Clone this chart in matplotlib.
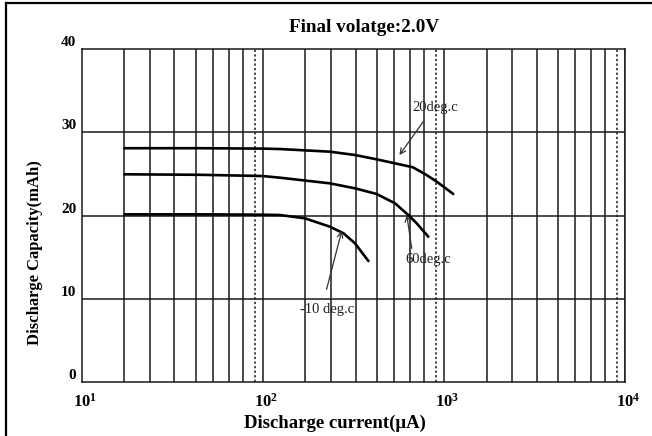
import numpy as np
import matplotlib.pyplot as plt
from matplotlib.lines import Line2D
from matplotlib.transforms import ScaledTranslation

plt.rcParams['font.family'] = ['Liberation Serif', 'DejaVu Serif']
plt.rcParams['mathtext.fontset'] = 'custom'
plt.rcParams['mathtext.rm'] = 'Liberation Serif'
plt.rcParams['mathtext.bf'] = 'Liberation Serif:bold'

# curves (current in uA, capacity in mAh)
x_20 = [17.2, 45, 100, 124.5, 235, 323, 425, 537, 675, 803, 913, 1127]
y_20 = [28.1, 28.1, 28.05, 28.0, 27.68, 27.28, 26.76, 26.28, 25.8, 24.87, 24.07, 22.59]
x_60 = [17.2, 45, 100, 124.5, 235, 323, 425, 537, 636, 708, 820]
y_60 = [24.96, 24.9, 24.75, 24.55, 23.87, 23.27, 22.59, 21.47, 20.06, 19.06, 17.45]
x_m10 = [17.2, 45, 100, 124.5, 171, 235, 279, 323, 383]
y_m10 = [20.14, 20.14, 20.1, 20.06, 19.66, 18.65, 17.86, 16.65, 14.52]

decades = [10, 100, 1000, 10000]
minor_mult = [1.72, 2.39, 3.25, 4.28, 5.32, 6.48, 7.79]
dotted_mult = 9
y_ticks = [0, 10, 20, 30, 40]

fig = plt.figure(figsize=(6.52, 4.36), dpi=100)
ax = fig.add_axes([0.1253, 0.1245, 0.8333, 0.7624])
ax.set_xscale('log')
ax.set_xlim(10, 10000)
ax.set_ylim(0, 40)

grid_c = '#1a1a1a'
for d in decades[:-1]:
    for m in minor_mult:
        ax.axvline(d * m, color=grid_c, lw=1.1, zorder=1)
    ax.axvline(d * dotted_mult, color=grid_c, lw=1.1, ls=(0, (1.5, 1.5)), zorder=1)
    ax.axvline(d * 10, color=grid_c, lw=1.1, zorder=1)
for yv in y_ticks[1:-1]:
    ax.axhline(yv, color=grid_c, lw=1.1, zorder=1)

for xs, ys in [(x_20, y_20), (x_60, y_60), (x_m10, y_m10)]:
    ax.plot(xs, ys, color='black', lw=1.9, zorder=3, solid_capstyle='round')

ann = dict(arrowprops=dict(arrowstyle='->', color='#333333', lw=0.9,
                           shrinkA=0, shrinkB=0))
txt = dict(fontsize=10.5, ha='center', va='center', color='#222222')
ax.annotate('', xy=(568, 27.28), xytext=(769, 31.29), **ann)
ax.text(893, 32.97, '20deg.c', **txt)
ax.annotate('', xy=(624, 20.06), xytext=(664, 16.05), **ann)
ax.text(817, 14.65, '60deg.c', **txt)
ax.annotate('', xy=(273, 18.17), xytext=(225, 11.12), **ann)
ax.text(226, 8.75, '-10 deg.c', **txt)

for s in ax.spines.values():
    s.set_color(grid_c)
    s.set_linewidth(1.1)

ax.set_xticks(decades)
ax.set_xticklabels([r'$\mathbf{10^{%d}}$' % int(np.log10(d)) for d in decades],
                   fontsize=12)
ax.minorticks_off()
ax.set_yticks(y_ticks)
ax.set_yticklabels([str(v) for v in y_ticks], fontsize=11, fontweight='bold')
ax.tick_params(length=0, pad=4)
ax.tick_params(axis='x', pad=8)
up = ScaledTranslation(0, 8 / 100, fig.dpi_scale_trans)
for lab in ax.get_yticklabels():
    lab.set_transform(lab.get_transform() + up)
right = ScaledTranslation(3 / 100, 0, fig.dpi_scale_trans)
for lab in ax.get_xticklabels():
    lab.set_transform(lab.get_transform() + right)

ax.set_xlabel('Discharge current(\u03bcA)', fontsize=13.5, fontweight='bold')
ax.xaxis.set_label_coords(0.466, -0.098)
ax.set_ylabel('Discharge Capacity(mAh)', fontsize=12, fontweight='bold')
ax.yaxis.set_label_coords(-0.071, 0.39)
ax.set_title('Final volatge:2.0V', fontsize=13.8, fontweight='bold', x=0.52, y=1.026)

# outer frame (left and top edges)
fig.add_artist(Line2D([6 / 652, 6 / 652], [0, 1 - 3.5 / 436], color='black', lw=1.6))
fig.add_artist(Line2D([6 / 652, 1], [1 - 3.5 / 436, 1 - 3.5 / 436], color='black', lw=1.6))

fig.savefig('out.png', dpi=100)
